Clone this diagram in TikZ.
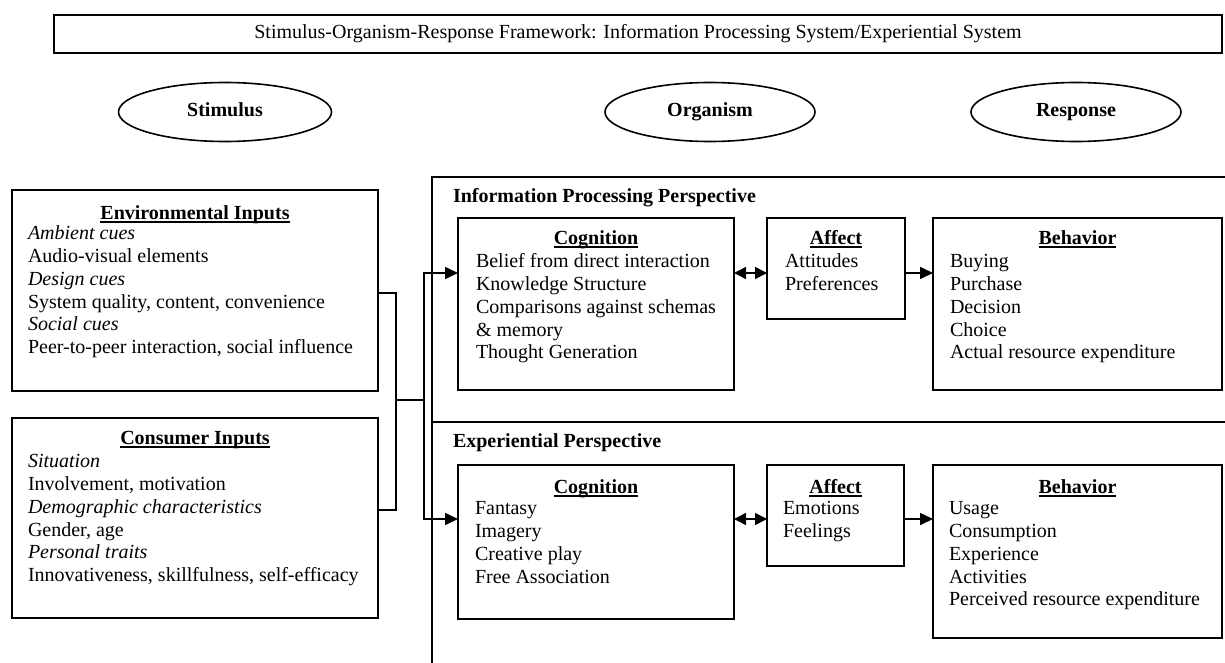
\documentclass[tikz,border=0pt]{standalone}
\usepackage{fontspec}
\setmainfont{Liberation Serif}
\usetikzlibrary{shapes.geometric,arrows.meta}
\newsavebox\ulbox
\newcommand\myul[1]{\sbox\ulbox{#1}\rlap{\rule[-3.5pt]{\wd\ulbox}{1.3pt}}\usebox\ulbox}
\newcommand\fs{\fontsize{20}{22.7}\selectfont}
\tikzset{
  lw/.style={line width=1.6pt},
  box/.style={draw, lw, inner sep=0pt, outer sep=0pt, anchor=north west},
  txt/.style={inner sep=0pt, outer sep=0pt, anchor=north west, align=left, font=\fs},
  ttl/.style={inner sep=0pt, outer sep=0pt, anchor=base, font=\fs\bfseries},
  hdg/.style={inner sep=0pt, outer sep=0pt, anchor=base west, font=\fs\bfseries},
  oval/.style={draw, lw, ellipse, inner sep=0pt, font=\fs\bfseries, text height=13pt, text depth=4pt},
  arr/.style={lw, -{Triangle[length=13pt,width=12pt]}},
  darr/.style={lw, {Triangle[length=12pt,width=12pt]}-{Triangle[length=12pt,width=12pt]}},
}
\begin{document}
\begin{tikzpicture}[x=1pt,y=-1pt]
\useasboundingbox (0,0) rectangle (1225,663);

% title and ovals
\node[draw, lw, minimum width=1168pt, minimum height=38pt, inner sep=0pt, font=\fs] (title) at (638,34)
  {Stimulus-Organism-Response Framework: Information Processing System/Experiential System};
\node[oval, minimum width=213pt, minimum height=59pt] (stim) at (225,112) {Stimulus};
\node[oval, minimum width=210pt, minimum height=59pt] (org) at (710,112) {Organism};
\node[oval, minimum width=210pt, minimum height=59pt] (resp) at (1076,112) {Response};

% left boxes
\node[box, minimum width=366pt, minimum height=201pt] (env) at (12,190) {};
\node[ttl] (envT) at (195,219) {\myul{Environmental Inputs}};
\node[txt] (envB) at (28,224.1) {\strut\textit{Ambient cues}\\Audio-visual elements\\\textit{Design cues}\\System quality, content, convenience\\\textit{Social cues}\\Peer-to-peer interaction, social influence};

\node[box, minimum width=366pt, minimum height=200pt] (cons) at (12,418) {};
\node[ttl] (consT) at (195,444) {\myul{Consumer Inputs}};
\node[txt] (consB) at (28,452.1) {\strut\textit{Situation}\\Involvement, motivation\\\textit{Demographic characteristics}\\Gender, age\\\textit{Personal traits}\\Innovativeness, skillfulness, self-efficacy};

% panel
\coordinate (pTL) at (432,177);
\coordinate (pTR) at (1225,177);
\coordinate (pB) at (432,663);
\coordinate (sL) at (432,422);
\coordinate (sR) at (1225,422);
\draw[lw] (pTR) -- (pTL) -- (pB);
\draw[lw] (sL) -- (sR);

\node[hdg] (ipH) at (453,202) {Information Processing Perspective};
\node[hdg] (exH) at (453,447) {Experiential Perspective};

% information processing row
\node[box, minimum width=276pt, minimum height=172pt] (cogA) at (458,218) {};
\node[ttl] (cogAT) at (596,244) {\myul{Cognition}};
\node[txt] (cogAB) at (476,252.1) {\strut Belief from direct interaction\\Knowledge Structure\\Comparisons against schemas\\\& memory\\Thought Generation};

\node[box, minimum width=138pt, minimum height=101pt] (affA) at (767,218) {};
\node[ttl] (affAT) at (836,244) {\myul{Affect}};
\node[txt] (affAB) at (785,252.1) {\strut Attitudes\\Preferences};

\node[box, minimum width=289pt, minimum height=172pt] (behA) at (933,218) {};
\node[ttl] (behAT) at (1077.5,244) {\myul{Behavior}};
\node[txt] (behAB) at (950,252.1) {\strut Buying\\Purchase\\Decision\\Choice\\Actual resource expenditure};

% experiential row
\node[box, minimum width=276pt, minimum height=154pt] (cogB) at (458,465) {};
\node[ttl] (cogBT) at (596,493) {\myul{Cognition}};
\node[txt] (cogBB) at (475,499.1) {\strut Fantasy\\Imagery\\Creative play\\Free Association};

\node[box, minimum width=137pt, minimum height=101pt] (affB) at (767,465) {};
\node[ttl] (affBT) at (835.5,493) {\myul{Affect}};
\node[txt] (affBB) at (783,499.1) {\strut Emotions\\Feelings};

\node[box, minimum width=289pt, minimum height=173pt] (behB) at (933,465) {};
\node[ttl] (behBT) at (1077.5,493) {\myul{Behavior}};
\node[txt] (behBB) at (949,499.1) {\strut Usage\\Consumption\\Experience\\Activities\\Perceived resource expenditure};

% connectors
\coordinate (rowA) at (0,273);
\coordinate (rowB) at (0,519);
\coordinate (brk) at (396,400);
\coordinate (fork) at (424,400);
\draw[lw] ([yshift=-2.5pt]env.east) -| (brk) |- ([yshift=8pt]cons.east);
\draw[lw] (brk) -- (fork);
\draw[arr] (fork) |- (cogA.west |- rowA);
\draw[arr] (fork) |- (cogB.west |- rowB);
\draw[darr] (cogA.east |- rowA) -- (affA.west |- rowA);
\draw[arr] (affA.east |- rowA) -- (behA.west |- rowA);
\draw[darr] (cogB.east |- rowB) -- (affB.west |- rowB);
\draw[arr] (affB.east |- rowB) -- (behB.west |- rowB);
\end{tikzpicture}
\end{document}
